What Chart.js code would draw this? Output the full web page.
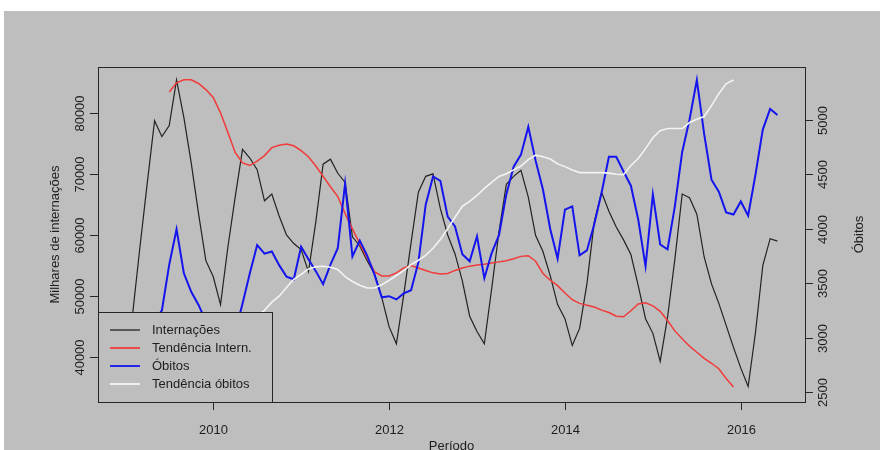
<!DOCTYPE html>
<html>
<head>
<meta charset="utf-8">
<script src="https://cdn.jsdelivr.net/npm/chart.js@4.4.1/dist/chart.umd.min.js"></script>
<style>
  html, body { margin: 0; padding: 0; background: #ffffff; }
  #grafico { display: block; }
</style>
</head>
<body>
<canvas id="grafico" width="880" height="450"></canvas>
<script>
// serie mensal: jan/2009 a jun/2016
const anoInicial = 2009;

// Internações (eixo esquerdo)
const internacoes = [
    40000, 47000, 58000, 68500, 78700, 76100, 77900, 85400, 79200, 71800, 63500, 55800,
    53200, 48600, 58000, 66200, 74000, 72600, 70700, 65600, 66700, 63100, 60000, 58600,
    57600, 54000, 62100, 71600, 72400, 70100, 68600, 59700, 58200, 55800, 53700, 49800,
    45000, 42200, 50200, 58700, 67000, 69600, 70000, 64300, 60000, 56900, 52500, 46700,
    44200, 42200, 51200, 60500, 68300, 69600, 70600, 66200, 59900, 57300, 53300, 48600,
    46300, 41900, 44700, 52000, 62100, 67000, 63900, 61300, 59200, 56800, 51700, 46300,
    43900, 39300, 46500, 56000, 66700, 66100, 63400, 56400, 52000, 48800, 45200, 41600,
    38200, 35200, 44000, 55000, 59400, 59000
];

// Tendência das internações (média móvel, jul/2009 a dez/2015)
const tendInternacoes = [
    83400, 84900, 85400, 85400, 84800, 83800,
    82500, 80000, 76800, 73500, 71800, 71400, 72100, 73000, 74300, 74700, 74900, 74600,
    73800, 72800, 71300, 69600, 67900, 66300, 63500, 61000, 58600, 56300, 54000, 53300,
    53300, 53800, 54600, 55000, 54600, 54200, 53800, 53600, 53700, 54200, 54600, 54900,
    55100, 55200, 55400, 55600, 55800, 56100, 56500, 56600, 55700, 53700, 52600, 51700,
    50500, 49400, 48800, 48500, 48200, 47700, 47300, 46700, 46600, 47600, 48700, 48900,
    48400, 47500, 46000, 44300, 43000, 41800, 40800, 39800, 39000, 38100, 36500, 35100
];

// Óbitos (eixo direito)
const obitos = [
    2950, 2900, 3000, 3100, 3150, 3250, 3670, 3995, 3590, 3420, 3300, 3150,
    3050, 2980, 3080, 3050, 3310, 3590, 3850, 3770, 3790, 3665, 3560, 3535,
    3835, 3720, 3610, 3490, 3670, 3820, 4415, 3745, 3890, 3755, 3580, 3370,
    3380, 3350, 3405, 3435, 3690, 4220, 4480, 4440, 4110, 4020, 3765, 3700,
    3930, 3545, 3775, 3940, 4315, 4570, 4680, 4935, 4625, 4360, 3995, 3725,
    4175, 4205, 3755, 3800, 4040, 4330, 4660, 4660, 4525, 4395, 4085, 3655,
    4315, 3855, 3810, 4205, 4705, 5000, 5365, 4870, 4450, 4340, 4150, 4130,
    4250, 4120, 4495, 4910, 5100, 5045
];

// Tendência dos óbitos (jul/2009 a dez/2015)
const tendObitos = [
    3000, 3010, 3035, 3050, 3055, 3070,
    3080, 3095, 3110, 3140, 3180, 3225, 3200, 3250, 3325, 3380, 3460, 3535,
    3580, 3630, 3650, 3655, 3645, 3625, 3560, 3515, 3480, 3455, 3455, 3485,
    3525, 3570, 3615, 3670, 3710, 3755, 3820, 3900, 4000, 4105, 4205, 4250,
    4305, 4370, 4425, 4480, 4505, 4540, 4575, 4635, 4675, 4660, 4640, 4595,
    4570, 4540, 4515, 4515, 4515, 4515, 4510, 4500, 4495, 4580, 4645, 4735,
    4835, 4900, 4920, 4920, 4920, 4975, 5005, 5030, 5130, 5240, 5330, 5365
];

const ticksAno = [2010, 2012, 2014, 2016];
const ticksInternacoes = [40000, 50000, 60000, 70000, 80000];
const ticksObitos = [2500, 3000, 3500, 4000, 4500, 5000];

const legenda = ['Internações', 'Tendência Intern.', 'Óbitos', 'Tendência óbitos'];
const cores = ['#222222', '#f23a3a', '#1414ee', '#f4f4f4'];

function pontos(valores, desloc) {
    return valores.map(function (v, i) {
        return { x: anoInicial + (i + desloc) / 12, y: v };
    });
}

const fonte = '13px "Liberation Sans", Arial, sans-serif';

const eixosR = {
    id: 'eixosR',
    beforeDraw(chart) {
        const ctx = chart.ctx;
        ctx.save();
        ctx.fillStyle = '#ffffff';
        ctx.fillRect(0, 0, chart.width, chart.height);
        ctx.fillStyle = '#bebebe';
        ctx.fillRect(4, 11, chart.width - 4, chart.height - 11);
        ctx.restore();
    },
    afterDatasetsDraw(chart) {
        const ctx = chart.ctx;
        const a = chart.chartArea;
        const sx = chart.scales.x, sy = chart.scales.y, sy1 = chart.scales.y1;
        ctx.save();
        ctx.strokeStyle = '#262626';
        ctx.lineWidth = 1;
        ctx.strokeRect(a.left + 0.5, a.top + 0.5, a.right - a.left, a.bottom - a.top);

        ctx.fillStyle = '#1e1e1e';
        ctx.font = fonte;

        // eixo x
        ctx.textAlign = 'center';
        ctx.textBaseline = 'middle';
        ticksAno.forEach(function (t) {
            const px = Math.round(sx.getPixelForValue(t)) + 0.5;
            ctx.beginPath();
            ctx.moveTo(px, a.bottom);
            ctx.lineTo(px, a.bottom + 8);
            ctx.stroke();
            ctx.fillText(String(t), px, 430);
        });
        ctx.fillText('Período', (a.left + a.right) / 2, 446);

        // eixo esquerdo
        ticksInternacoes.forEach(function (t) {
            const py = Math.round(sy.getPixelForValue(t)) + 0.5;
            ctx.beginPath();
            ctx.moveTo(a.left, py);
            ctx.lineTo(a.left - 8, py);
            ctx.stroke();
            ctx.save();
            ctx.translate(80, py);
            ctx.rotate(-Math.PI / 2);
            ctx.fillText(String(t), 0, 0);
            ctx.restore();
        });
        ctx.save();
        ctx.translate(55, (a.top + a.bottom) / 2);
        ctx.rotate(-Math.PI / 2);
        ctx.fillText('Milhares de internações', 0, 0);
        ctx.restore();

        // eixo direito
        ticksObitos.forEach(function (t) {
            const py = Math.round(sy1.getPixelForValue(t)) + 0.5;
            ctx.beginPath();
            ctx.moveTo(a.right, py);
            ctx.lineTo(a.right + 8, py);
            ctx.stroke();
            ctx.save();
            ctx.translate(823, py);
            ctx.rotate(-Math.PI / 2);
            ctx.fillText(String(t), 0, 0);
            ctx.restore();
        });
        ctx.save();
        ctx.translate(859, (a.top + a.bottom) / 2);
        ctx.rotate(-Math.PI / 2);
        ctx.fillText('Óbitos', 0, 0);
        ctx.restore();

        // legenda
        const lx = a.left, ly = 312, lw = 174, lh = a.bottom - 312;
        ctx.fillStyle = '#bebebe';
        ctx.fillRect(lx, ly, lw, lh);
        ctx.strokeStyle = '#262626';
        ctx.strokeRect(lx + 0.5, ly + 0.5, lw, lh);
        ctx.textAlign = 'left';
        legenda.forEach(function (nome, i) {
            const yy = 330 + i * 18;
            ctx.strokeStyle = cores[i];
            ctx.lineWidth = i === 0 ? 1.3 : 1.8;
            ctx.beginPath();
            ctx.moveTo(lx + 12, yy);
            ctx.lineTo(lx + 42, yy);
            ctx.stroke();
            ctx.fillStyle = '#1e1e1e';
            ctx.fillText(nome, lx + 54, yy);
        });
        ctx.restore();
    }
};

new Chart(document.getElementById('grafico').getContext('2d'), {
    type: 'line',
    data: {
        datasets: [{
            label: legenda[0],
            data: pontos(internacoes, 0),
            borderColor: cores[0],
            borderWidth: 1.2,
            yAxisID: 'y',
            order: 3
        }, {
            label: legenda[1],
            data: pontos(tendInternacoes, 6),
            borderColor: cores[1],
            borderWidth: 1.5,
            yAxisID: 'y',
            order: 2
        }, {
            label: legenda[2],
            data: pontos(obitos, 0),
            borderColor: cores[2],
            borderWidth: 2,
            yAxisID: 'y1',
            order: 1
        }, {
            label: legenda[3],
            data: pontos(tendObitos, 6),
            borderColor: cores[3],
            borderWidth: 1.6,
            yAxisID: 'y1',
            order: 0
        }]
    },
    options: {
        responsive: false,
        animation: false,
        devicePixelRatio: 1,
        layout: {
            padding: { left: 98, right: 75, top: 67, bottom: 48 }
        },
        elements: {
            point: { radius: 0 },
            line: { tension: 0, fill: false }
        },
        scales: {
            x: { type: 'linear', min: 2008.69, max: 2016.73, display: false },
            y: { type: 'linear', min: 32660, max: 87500, display: false },
            y1: { type: 'linear', min: 2408, max: 5485, display: false, position: 'right' }
        },
        plugins: {
            legend: { display: false },
            tooltip: { enabled: false }
        }
    },
    plugins: [eixosR]
});
</script>
</body>
</html>
